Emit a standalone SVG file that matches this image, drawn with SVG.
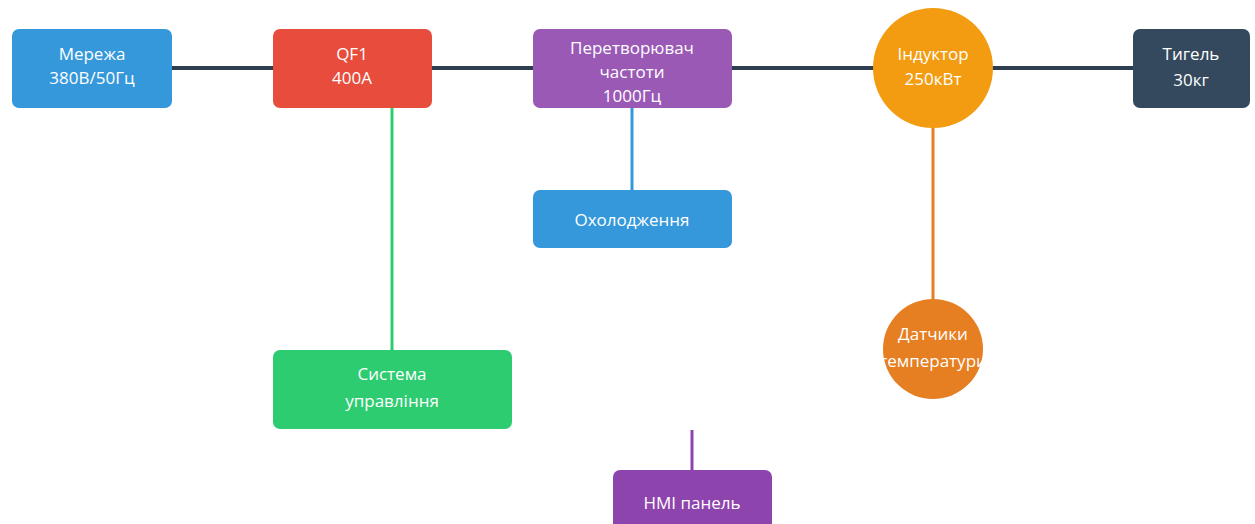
<svg xmlns="http://www.w3.org/2000/svg" width="1255" height="524" viewBox="0 0 1255 524">
<style>
.t{font-family:"Open Sans","Noto Sans","Liberation Sans",sans-serif;fill:#fff;text-anchor:middle;dominant-baseline:central;font-size:17px}
.s{font-size:17px}
.c{fill:none;stroke-width:3}
</style>
<rect width="1255" height="524" fill="#fff"/>
<g id="connectors">
<line x1="172" y1="68" x2="1133" y2="68" stroke="#2c3e50" stroke-width="4"/>
<line class="c" x1="392" y1="108" x2="392" y2="350" stroke="#2ecc71"/>
<line class="c" x1="632" y1="108" x2="632" y2="190" stroke="#3498db"/>
<line class="c" x1="933" y1="128" x2="933" y2="299" stroke="#e67e22"/>
<line class="c" x1="692" y1="430" x2="692" y2="470" stroke="#8e44ad"/>
</g>
<g id="merezha"><rect x="12" y="29" width="160" height="79" rx="7" fill="#3498db"/><text class="t" x="92" y="53">Мережа</text><text class="t" x="92" y="77">380В/50Гц</text></g>
<g id="qf1"><rect x="273" y="29" width="159" height="79" rx="7" fill="#e74c3c"/><text class="t" x="352" y="53">QF1</text><text class="t" x="352" y="77">400A</text></g>
<g id="converter"><rect x="533" y="29" width="199" height="79" rx="7" fill="#9b59b6"/><text class="t s" x="632" y="47">Перетворювач</text><text class="t s" x="632" y="71">частоти</text><text class="t s" x="632" y="95">1000Гц</text></g>
<g id="inductor"><circle cx="933" cy="68" r="60" fill="#f39c12"/><text class="t" x="933" y="53">Індуктор</text><text class="t" x="933" y="78">250кВт</text></g>
<g id="tigel"><rect x="1133" y="29" width="117" height="79" rx="7" fill="#34495e"/><text class="t" x="1191" y="53">Тигель</text><text class="t" x="1191" y="79">30кг</text></g>
<g id="cooling"><rect x="533" y="190" width="199" height="58" rx="7" fill="#3498db"/><text class="t" x="632" y="219">Охолодження</text></g>
<g id="control"><rect x="273" y="350" width="239" height="79" rx="7" fill="#2ecc71"/><text class="t" x="392" y="373">Система</text><text class="t" x="392" y="400">управління</text></g>
<g id="sensors"><circle cx="933" cy="349" r="50" fill="#e67e22"/><text class="t s" x="933" y="333">Датчики</text><text class="t s" x="933" y="360">температури</text></g>
<g id="hmi"><rect x="613" y="470" width="159" height="64" rx="7" fill="#8e44ad"/><text class="t" x="692" y="502">HMI панель</text></g>
</svg>
